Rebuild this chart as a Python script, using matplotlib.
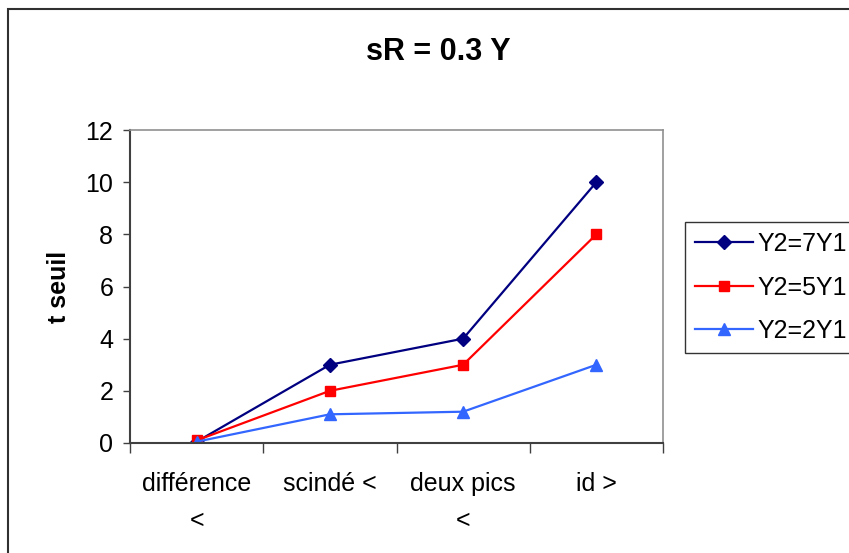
import matplotlib
matplotlib.use("Agg")
import matplotlib.pyplot as plt
from matplotlib.patches import Rectangle

plt.rcParams["font.family"] = ["Liberation Sans", "DejaVu Sans"]

categories = ["différence\n<", "scindé <", "deux pics\n<", "id >"]
y_7y1 = [0.05, 3, 4, 10]
y_5y1 = [0.1, 2, 3, 8]
y_2y1 = [0.05, 1.1, 1.2, 3]

fig = plt.figure(figsize=(8.49, 5.53), dpi=100)
ax = fig.add_axes([130 / 849, 1 - 443 / 553, (663 - 130) / 849, (443 - 130) / 553])

x = list(range(len(categories)))
ax.plot(x, y_7y1, color="#000080", marker="D", ms=7, lw=1.6, label="Y2=7Y1")
ax.plot(x, y_5y1, color="#FF0000", marker="s", ms=7.5, lw=1.6, label="Y2=5Y1")
ax.plot(x, y_2y1, color="#3366FF", marker="^", ms=9, lw=1.6, label="Y2=2Y1")

ax.set_xlim(-0.5, len(categories) - 0.5)
ax.set_ylim(0, 12)
ax.set_yticks(range(0, 13, 2))
ax.tick_params(axis="y", direction="out", length=5, width=1, pad=7,
               labelsize=18, color="#404040")

# category boundaries as major ticks, names centred as minor labels
ax.set_xticks([i - 0.5 for i in range(len(categories) + 1)])
ax.set_xticklabels([])
ax.set_xticks(x, minor=True)
ax.set_xticklabels(categories, minor=True, fontsize=18, linespacing=1.65,
                   va="top")
ax.tick_params(axis="x", which="major", direction="out", length=7, width=1,
               color="#404040")
ax.tick_params(axis="x", which="minor", length=0, pad=21)

for side in ("left", "bottom"):
    ax.spines[side].set_color("#404040")
    ax.spines[side].set_linewidth(1.5)
for side in ("top", "right"):
    ax.spines[side].set_color("#909090")
    ax.spines[side].set_linewidth(1.2)

ax.set_ylabel("t seuil", fontsize=18, fontweight="bold")
ax.yaxis.set_label_coords(-0.11, 0.5)
fig.text(438 / 849, 1 - 52 / 553, "sR = 0.3 Y", ha="center", va="center",
         fontsize=22, fontweight="bold")

leg = ax.legend(loc="upper left", bbox_to_anchor=(685 / 849, 1 - 222 / 553),
                bbox_transform=fig.transFigure, fontsize=18, frameon=True,
                fancybox=False, handlelength=2.3, borderpad=0.4,
                labelspacing=0.78, handletextpad=0.2, borderaxespad=0)
leg.get_frame().set_edgecolor("black")
leg.get_frame().set_linewidth(1.0)

# outer chart border, open to the right and bottom
fig.patches.append(Rectangle((8 / 849, -0.1), 1.2, 1 - 9 / 553 + 0.1,
                             transform=fig.transFigure, fill=False,
                             edgecolor="#303030", lw=1.5))

fig.savefig("out.png", dpi=100)
